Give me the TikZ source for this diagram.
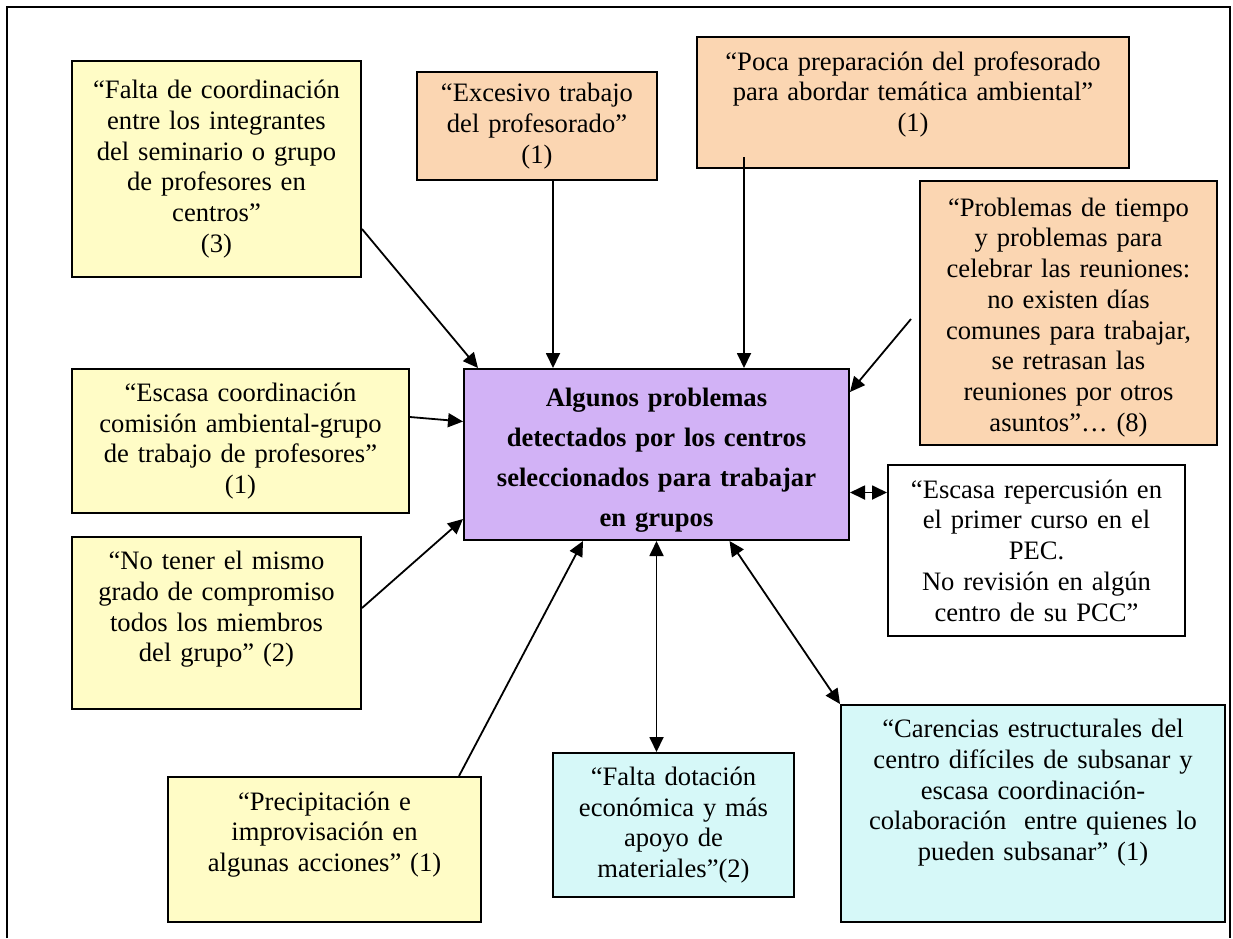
\documentclass[tikz,border=0pt]{standalone}
\usepackage{fontspec}
\setmainfont{Liberation Serif}
\usetikzlibrary{arrows.meta, positioning, calc}
\definecolor{amarillo}{RGB}{255, 252, 198}
\definecolor{melocoton}{RGB}{251, 214, 178}
\definecolor{lila}{RGB}{210, 178, 246}
\definecolor{celeste}{RGB}{214, 248, 248}
% puntal para bajar o subir el texto dentro de la caja
\newcommand{\fondo}[1]{\rule[-#1]{0pt}{#1}}

\begin{document}
\begin{tikzpicture}[x=1pt, y=-1pt,
  caja/.style={draw=black, line width=2pt, anchor=north west, align=center, inner sep=6pt,
    font=\fontsize{26.6pt}{30.7pt}\selectfont},
  flecha/.style={line width=1.8pt, -{Triangle[length=15pt,width=14pt]}},
  doble/.style={line width=1.8pt, {Triangle[length=15pt,width=14pt]}-{Triangle[length=15pt,width=14pt]}}]
  \useasboundingbox (0,0) rectangle (1233,938);

  % marco exterior (abierto abajo)
  \draw[line width=1.5pt] (7,938) -- (7,7) -- (1230,7) -- (1230,938);

  % caja central
  \node[caja, fill=lila, minimum width=385pt, minimum height=171pt, text width=371pt,
        font=\bfseries\fontsize{26.6pt}{40pt}\selectfont] (ctr) at (463,368)
    {\rule{0pt}{29pt}Algunos problemas\\ detectados por los centros\\ seleccionados para trabajar\\ en grupos};

  % causas (arriba)
  \node[caja, fill=amarillo, minimum width=289pt, minimum height=216pt, text width=275pt] (falta) at (71,60)
    {“Falta de coordinación\\ entre los integrantes\\ del seminario o grupo\\ de profesores en\\ centros”\\ (3)};
  \node[caja, fill=melocoton, minimum width=240pt, minimum height=108pt, text width=226pt] (excesivo) at (416,71)
    {“Excesivo trabajo\\ del profesorado”\\ (1)};
  \node[caja, fill=melocoton, minimum width=432pt, minimum height=131pt, text width=418pt] (poca) at (696,36)
    {“Poca preparación del profesorado\\ para abordar temática ambiental”\\ (1)\fondo{22pt}};
  \node[caja, fill=melocoton, minimum width=297pt, minimum height=264pt, text width=283pt] (problemas) at (919,180)
    {\rule{0pt}{27pt}“Problemas de tiempo\\ y problemas para\\ celebrar las reuniones:\\ no existen días\\ comunes para trabajar,\\ se retrasan las\\ reuniones por otros\\ asuntos”… (8)};

  % causas (izquierda)
  \node[caja, fill=amarillo, minimum width=337pt, minimum height=144pt, text width=323pt] (escasa) at (71,368)
    {“Escasa coordinación\\ comisión ambiental-grupo\\ de trabajo de profesores”\\ (1)};
  \node[caja, fill=amarillo, minimum width=289pt, minimum height=172pt, text width=275pt] (notener) at (71,536)
    {“No tener el mismo\\ grado de compromiso\\ todos los miembros\\ del grupo” (2)\fondo{33pt}};
  \node[caja, fill=amarillo, minimum width=313pt, minimum height=145pt, text width=299pt] (precip) at (167,776)
    {“Precipitación e\\ improvisación en\\ algunas acciones” (1)\fondo{36pt}};

  % consecuencias
  \node[caja, fill=white, minimum width=297pt, minimum height=171pt, text width=283pt] (repercusion) at (887,464)
    {“Escasa repercusión en\\ el primer curso en el\\ PEC.\\ No revisión en algún\\ centro de su PCC”};
  \node[caja, fill=celeste, minimum width=241pt, minimum height=144pt, text width=227pt] (dotacion) at (552,752)
    {“Falta dotación\\ económica y más\\ apoyo de\\ materiales”(2)};
  \node[caja, fill=celeste, minimum width=384pt, minimum height=217pt, text width=370pt] (carencias) at (840,704)
    {“Carencias estructurales del\\ centro difíciles de subsanar y\\ escasa coordinación-\\ colaboración\ \ entre quienes lo\\ pueden subsanar” (1)\fondo{47pt}};

  % flechas hacia la caja central
  \draw[flecha] ([yshift=-60pt]falta.east) -- ([xshift=15pt]ctr.north west);
  \coordinate (e1) at ([xshift=16pt]excesivo.south);
  \draw[flecha] (e1) -- (e1 |- ctr.north);
  \coordinate (p1) at ([xshift=-169pt,yshift=12pt]poca.south);
  \draw[flecha] (p1) -- (p1 |- ctr.north);
  \draw[flecha] ([xshift=-8pt,yshift=-6pt]problemas.west) -- ([yshift=-24pt]ctr.north east);
  \draw[flecha] ([yshift=24pt]escasa.east) -- ([yshift=33pt]ctr.west);
  \draw[flecha] ([yshift=15pt]notener.east) -- ([yshift=22pt]ctr.south west);
  \draw[flecha] ([xshift=-23pt]precip.north east) -- ([xshift=120pt]ctr.south west);

  % flechas dobles
  \draw[doble] ([yshift=-38pt]ctr.east) -- ([yshift=-38pt]ctr.east -| repercusion.west);
  \draw[doble] (ctr.south) -- (ctr.south |- dotacion.north);
  \draw[doble] ([xshift=73pt]ctr.south) -- (carencias.north west);
\end{tikzpicture}
\end{document}
